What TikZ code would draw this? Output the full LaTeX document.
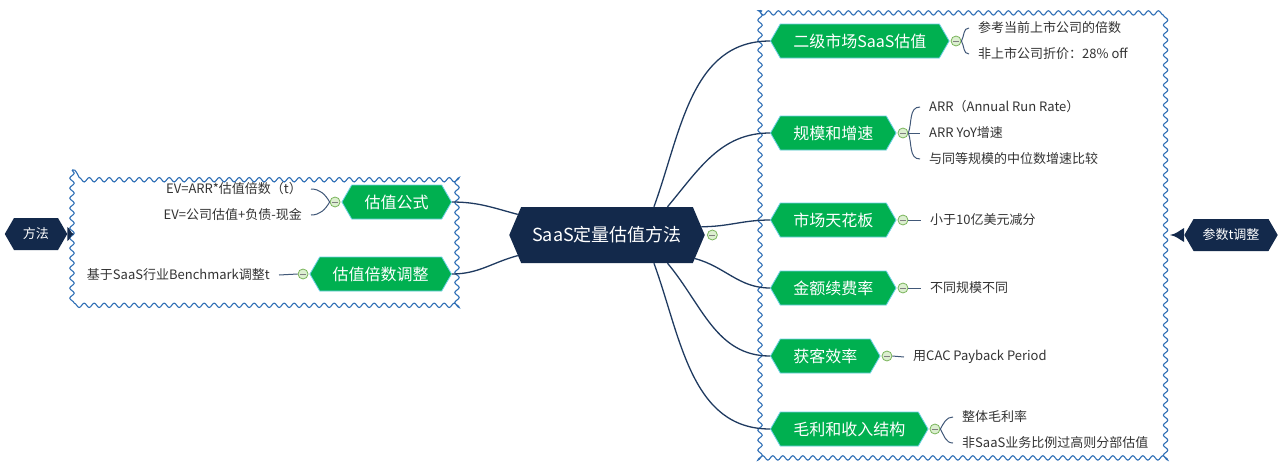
\documentclass[tikz,border=0pt]{standalone}
\usepackage{fontspec}
\setmainfont{Noto Sans CJK SC}
\usetikzlibrary{shapes.symbols,positioning,decorations.pathmorphing}
\definecolor{navy}{HTML}{13294B}
\definecolor{leafgreen}{HTML}{00B050}
\definecolor{rimcyan}{HTML}{6FD0E6}
\definecolor{wavyblue}{HTML}{2E6EB5}
\definecolor{linknavy}{HTML}{1F3A60}
\definecolor{knobfill}{HTML}{DCEFD0}
\definecolor{knobrim}{HTML}{7AB55C}
\definecolor{leaftext}{HTML}{333333}

\begin{document}
\begin{tikzpicture}[x=1pt, y=-1pt,
    hub/.style={signal, signal to=east and west, signal pointer angle=134, fill=navy, text=white, minimum height=56pt, inner xsep=11pt, font=\fontsize{18}{20}\selectfont},
    topic/.style={signal, signal to=east and west, signal pointer angle=120, fill=leafgreen, draw=rimcyan, line width=0.8pt, text=white, minimum height=34pt, inner xsep=13pt, font=\fontsize{16}{18}\selectfont},
    tag/.style={signal, signal to=east and west, signal pointer angle=120, fill=navy, text=white, minimum height=32pt, inner xsep=9pt, font=\fontsize{13}{15}\selectfont},
    leaf/.style={inner xsep=9pt, inner ysep=2pt, text=leaftext, font=\fontsize{13}{15}\selectfont},
    knob/.style={circle, draw=knobrim, fill=knobfill, minimum size=10pt, inner sep=0pt, line width=0.8pt,
        path picture={\draw[gray, line width=0.8pt] ([xshift=-3pt]path picture bounding box.center) -- ([xshift=3pt]path picture bounding box.center);}},
    link/.style={draw=linknavy, line width=1.3pt},
    twig/.style={draw=linknavy!85, line width=1pt},
    frame/.style={draw=wavyblue, line width=1.1pt, decorate, decoration={snake, amplitude=2.2pt, segment length=10pt}}]
    \useasboundingbox (0,0) rectangle (1280,469);

    % wavy boundaries
    \draw[frame] (72,170) rectangle (456,302);
    \draw[frame] (760,12) rectangle (1171,457);

    % central topic
    \node[hub] (hub) at (607,235) {SaaS定量估值方法};
    \node[knob, right=2pt of hub] (khub) {};

    % right side topics
    \node[topic, anchor=west] (mkt) at (770,41) {二级市场SaaS估值};
    \node[topic, anchor=west] (scale) at (770,133) {规模和增速};
    \node[topic, anchor=west] (cap) at (770,220) {市场天花板};
    \node[topic, anchor=west] (nrr) at (770,288) {金额续费率};
    \node[topic, anchor=west] (cac) at (770,356) {获客效率};
    \node[topic, anchor=west] (gm) at (770,429) {毛利和收入结构};

    % left side topics
    \node[topic, anchor=east] (formula) at (452,202) {估值公式};
    \node[topic, anchor=east] (multiple) at (452,274) {估值倍数调整};

    \node[knob, right=1pt of mkt] (kmkt) {};
    \node[knob, right=1pt of scale] (kscale) {};
    \node[knob, right=1pt of cap] (kcap) {};
    \node[knob, right=1pt of nrr] (knrr) {};
    \node[knob, right=1pt of cac] (kcac) {};
    \node[knob, right=1pt of gm] (kgm) {};
    \node[knob, left=1pt of formula] (kformula) {};
    \node[knob, left=1pt of multiple] (kmultiple) {};

    % leaves
    \node[leaf, anchor=west] (mkt1) at (969,28) {参考当前上市公司的倍数};
    \node[leaf, anchor=west] (mkt2) at (969,54) {非上市公司折价：28\% off};
    \node[leaf, anchor=west] (scale1) at (920,107) {ARR（Annual Run Rate）};
    \node[leaf, anchor=west] (scale2) at (920,133) {ARR YoY增速};
    \node[leaf, anchor=west] (scale3) at (920,159) {与同等规模的中位数增速比较};
    \node[leaf, anchor=west] (cap1) at (921,220) {小于10亿美元减分};
    \node[leaf, anchor=west] (nrr1) at (921,288) {不同规模不同};
    \node[leaf, anchor=west] (cac1) at (904,357) {用CAC Payback Period};
    \node[leaf, anchor=west] (gm1) at (953,417) {整体毛利率};
    \node[leaf, anchor=west] (gm2) at (953,443) {非SaaS业务比例过高则分部估值};
    \node[leaf, anchor=east] (formula1) at (311,189) {EV=ARR*估值倍数（t）};
    \node[leaf, anchor=east] (formula2) at (311,215) {EV=公司估值+负债-现金};
    \node[leaf, anchor=east] (multiple1) at (279,275) {基于SaaS行业Benchmark调整t};

    % side tags
    \node[tag] (method) at (36,234) {方法};
    \coordinate (lframe) at (74,234);
    \fill[navy] ([yshift=7pt]method.east) to[out=-30,in=170] (lframe) to[out=190,in=30] ([yshift=-7pt]method.east) -- cycle;
    \node[tag] (param) at (1231,235) {参数t调整};
    \coordinate (rframe) at (1170,235);
    \fill[navy] ([yshift=7pt]param.west) to[out=210,in=10] (rframe) to[out=-10,in=150] ([yshift=-7pt]param.west) -- cycle;

    % hub links
    \draw[link] (hub.31) to[out=70,in=180] (mkt.west);
    \draw[link] (hub.25) to[out=50,in=180] (scale.west);
    \draw[link] (hub.5) to[out=0,in=180] (cap.west);
    \draw[link] (hub.-15) to[out=-15,in=180] (nrr.west);
    \draw[link] (hub.-25) to[out=-50,in=180] (cac.west);
    \draw[link] (hub.-31) to[out=-70,in=180] (gm.west);
    \draw[link] (hub.167) to[out=165,in=0] (formula.east);
    \draw[link] (hub.193) to[out=195,in=0] (multiple.east);

    % twigs
    \draw[twig] (kmkt.east) to[out=60,in=180] (mkt1.west);
    \draw[twig] (kmkt.east) to[out=-60,in=180] (mkt2.west);
    \draw[twig] (kscale.east) to[out=70,in=180] (scale1.west);
    \draw[twig] (kscale.east) -- (scale2.west);
    \draw[twig] (kscale.east) to[out=-70,in=180] (scale3.west);
    \draw[twig] (kcap.east) -- (cap1.west);
    \draw[twig] (knrr.east) -- (nrr1.west);
    \draw[twig] (kcac.east) -- (cac1.west);
    \draw[twig] (kgm.east) to[out=60,in=180] (gm1.west);
    \draw[twig] (kgm.east) to[out=-60,in=180] (gm2.west);
    \draw[twig] (kformula.west) to[out=120,in=0] (formula1.east);
    \draw[twig] (kformula.west) to[out=240,in=0] (formula2.east);
    \draw[twig] (kmultiple.west) -- (multiple1.east);
\end{tikzpicture}
\end{document}
